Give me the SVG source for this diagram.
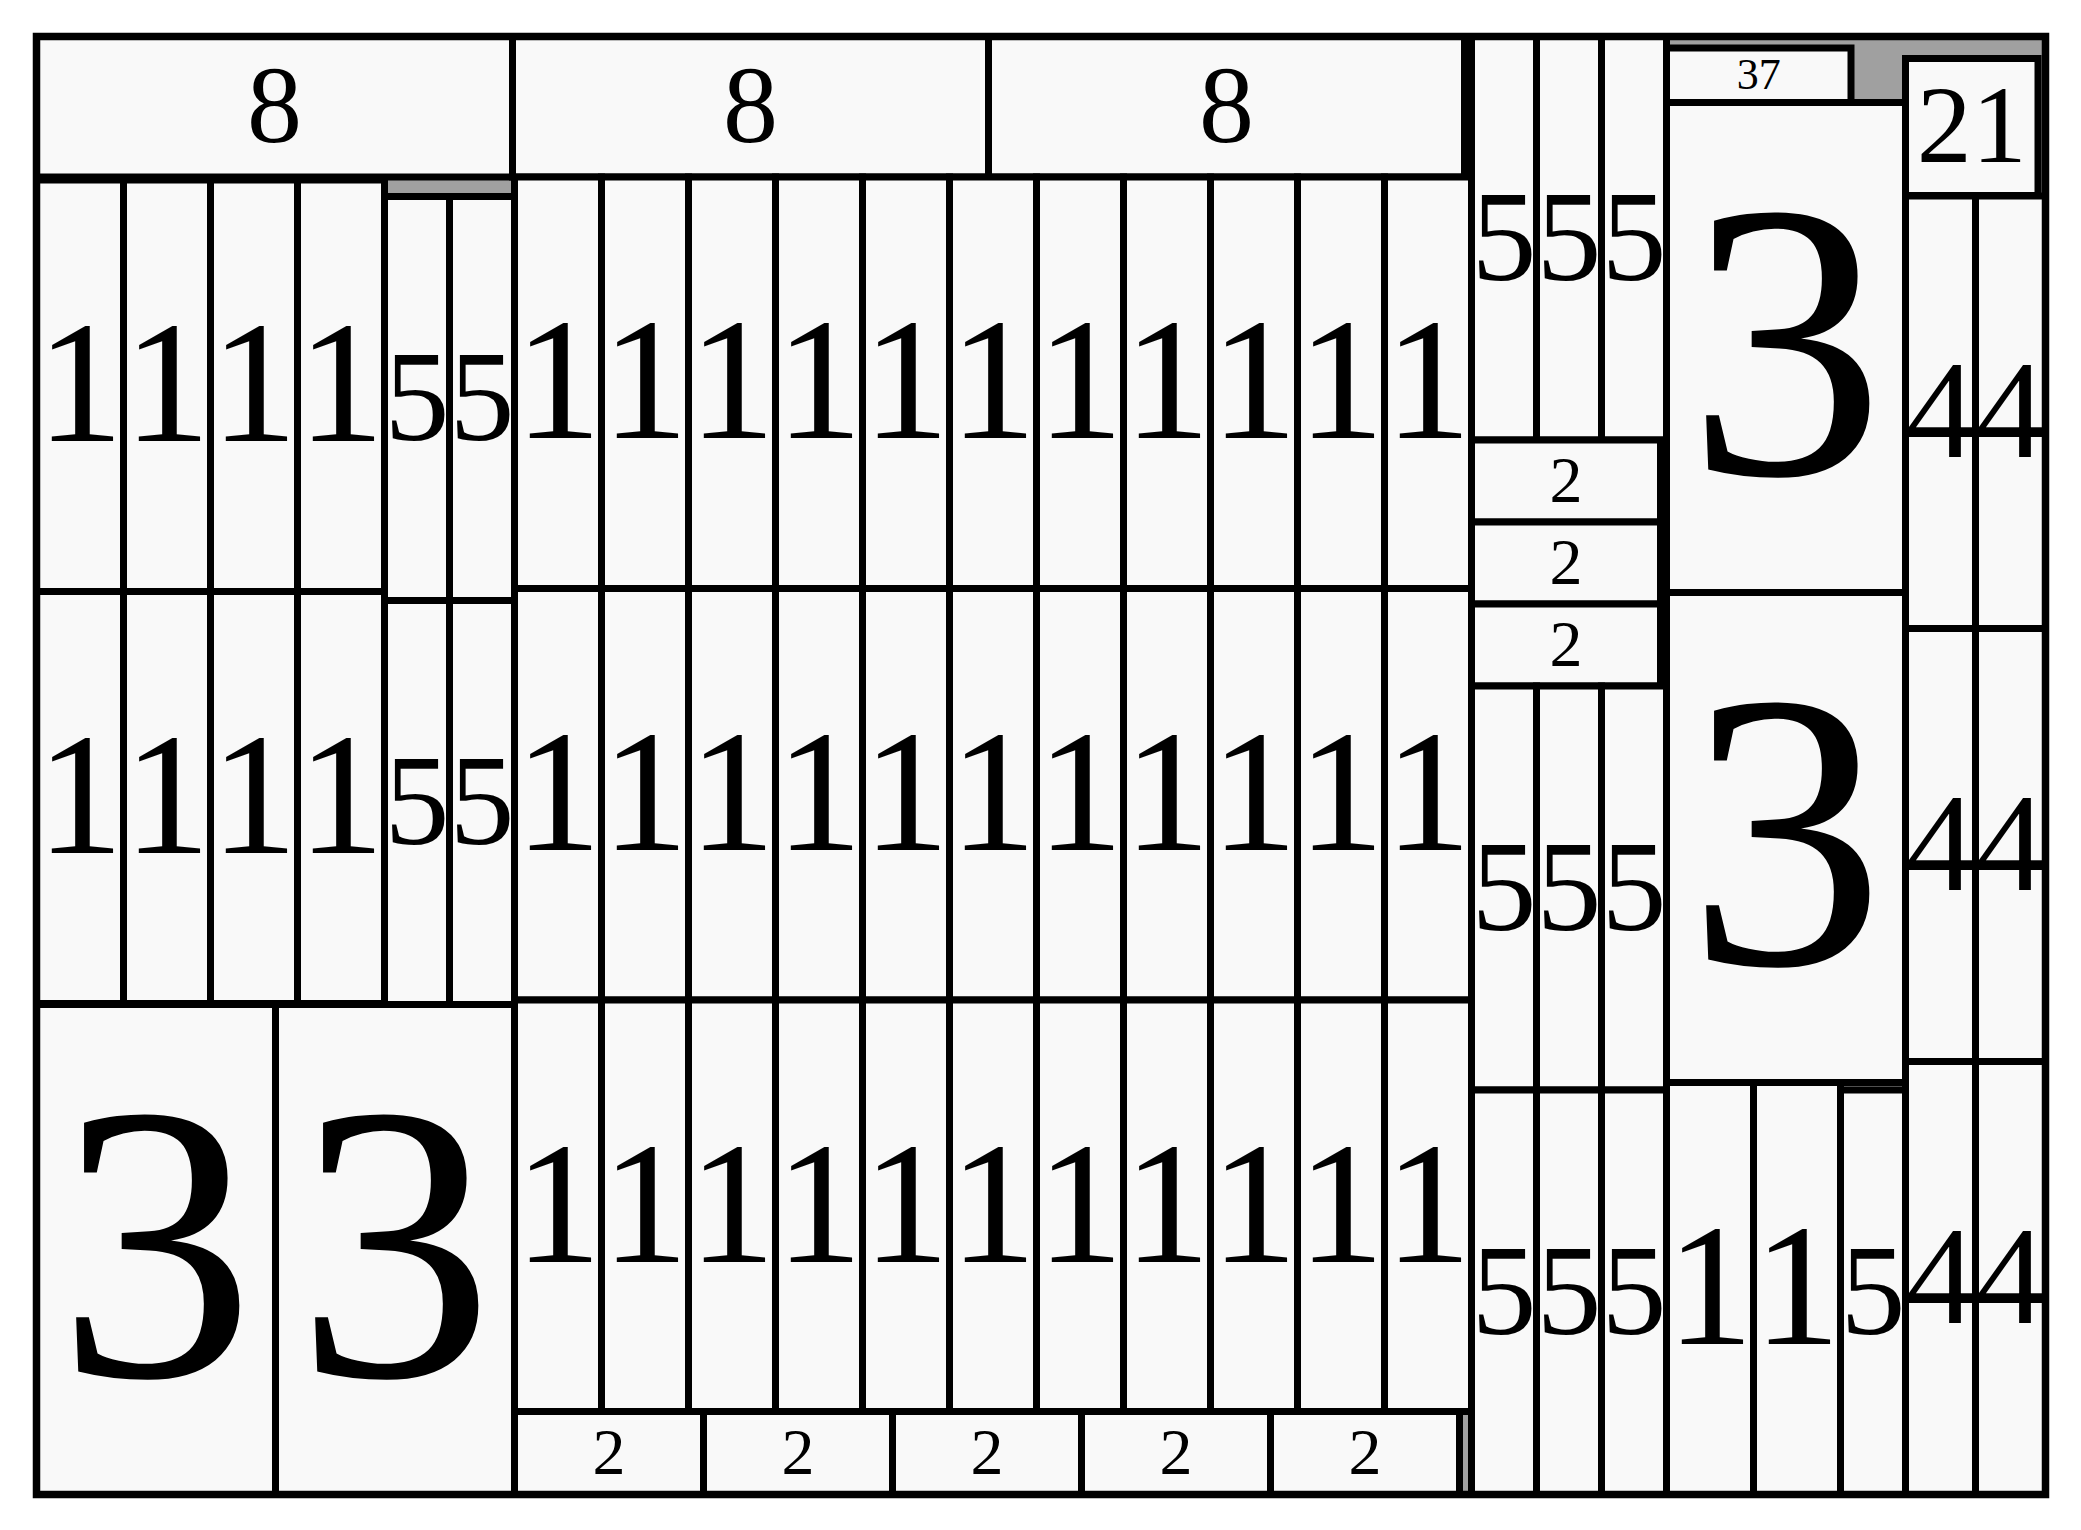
<svg xmlns="http://www.w3.org/2000/svg" width="2081" height="1530" viewBox="0 0 2081 1530">
<style>
.b{fill:#f9f9f9;stroke:#000;stroke-width:7}
.t{font-family:'Liberation Serif','Times New Roman',Times,serif;text-anchor:middle;fill:#000}
.f1{font-size:174px}.f5{font-size:130px}.f3{font-size:395px}.f8{font-size:110px}.f2{font-size:66px}.f4{font-size:140px}.f37{font-size:44px}.f21{font-size:110px}
</style>
<rect width="2081" height="1530" fill="#fff"/>
<rect id="container" x="36.5" y="36.5" width="2009" height="1458" fill="#a0a0a0"/>
<g id="nodes" font-family="Liberation Serif, Times New Roman, serif" text-anchor="middle">
<g id="e8a"><rect class="b" x="36.5" y="36.5" width="476" height="140.5"/><text class="t f8" x="274.5" y="142">8</text></g>
<g id="e8b"><rect class="b" x="512.5" y="36.5" width="476" height="140.5"/><text class="t f8" x="750.5" y="142">8</text></g>
<g id="e8c"><rect class="b" x="988.5" y="36.5" width="476" height="140.5"/><text class="t f8" x="1226.5" y="142">8</text></g>

<g id="l1a"><rect class="b" x="36.5" y="180" width="87" height="411.5"/><text class="t f1" x="80" y="441.4">1</text></g>
<g id="l1b"><rect class="b" x="123.5" y="180" width="87" height="411.5"/><text class="t f1" x="167" y="441.4">1</text></g>
<g id="l1c"><rect class="b" x="210.5" y="180" width="87" height="411.5"/><text class="t f1" x="254" y="441.4">1</text></g>
<g id="l1d"><rect class="b" x="297.5" y="180" width="87" height="411.5"/><text class="t f1" x="341" y="441.4">1</text></g>
<g id="l1e"><rect class="b" x="36.5" y="591.5" width="87" height="412"/><text class="t f1" x="80" y="853">1</text></g>
<g id="l1f"><rect class="b" x="123.5" y="591.5" width="87" height="412"/><text class="t f1" x="167" y="853">1</text></g>
<g id="l1g"><rect class="b" x="210.5" y="591.5" width="87" height="412"/><text class="t f1" x="254" y="853">1</text></g>
<g id="l1h"><rect class="b" x="297.5" y="591.5" width="87" height="412"/><text class="t f1" x="341" y="853">1</text></g>
<g id="l5a"><rect class="b" x="384.5" y="196.5" width="65" height="404"/><text class="t f5" x="417" y="440">5</text></g>
<g id="l5b"><rect class="b" x="449.5" y="196.5" width="65" height="404"/><text class="t f5" x="482" y="440">5</text></g>
<g id="l5c"><rect class="b" x="384.5" y="600.5" width="65" height="404"/><text class="t f5" x="417" y="844">5</text></g>
<g id="l5d"><rect class="b" x="449.5" y="600.5" width="65" height="404"/><text class="t f5" x="482" y="844">5</text></g>
<g id="l3a"><rect class="b" x="36.5" y="1004.5" width="239" height="490"/><text class="t f3" x="156" y="1376">3</text></g>
<g id="l3b"><rect class="b" x="275.5" y="1004.5" width="239" height="490"/><text class="t f3" x="395" y="1376">3</text></g>

<g id="m1r1c1"><rect class="b" x="514.5" y="177" width="87" height="411.5"/><text class="t f1" x="558" y="438.4">1</text></g>
<g id="m1r1c2"><rect class="b" x="601.5" y="177" width="87" height="411.5"/><text class="t f1" x="645" y="438.4">1</text></g>
<g id="m1r1c3"><rect class="b" x="688.5" y="177" width="87" height="411.5"/><text class="t f1" x="732" y="438.4">1</text></g>
<g id="m1r1c4"><rect class="b" x="775.5" y="177" width="87" height="411.5"/><text class="t f1" x="819" y="438.4">1</text></g>
<g id="m1r1c5"><rect class="b" x="862.5" y="177" width="87" height="411.5"/><text class="t f1" x="906" y="438.4">1</text></g>
<g id="m1r1c6"><rect class="b" x="949.5" y="177" width="87" height="411.5"/><text class="t f1" x="993" y="438.4">1</text></g>
<g id="m1r1c7"><rect class="b" x="1036.5" y="177" width="87" height="411.5"/><text class="t f1" x="1080" y="438.4">1</text></g>
<g id="m1r1c8"><rect class="b" x="1123.5" y="177" width="87" height="411.5"/><text class="t f1" x="1167" y="438.4">1</text></g>
<g id="m1r1c9"><rect class="b" x="1210.5" y="177" width="87" height="411.5"/><text class="t f1" x="1254" y="438.4">1</text></g>
<g id="m1r1c10"><rect class="b" x="1297.5" y="177" width="87" height="411.5"/><text class="t f1" x="1341" y="438.4">1</text></g>
<g id="m1r1c11"><rect class="b" x="1384.5" y="177" width="87" height="411.5"/><text class="t f1" x="1428" y="438.4">1</text></g>

<g id="m1r2c1"><rect class="b" x="514.5" y="588.5" width="87" height="411.5"/><text class="t f1" x="558" y="850">1</text></g>
<g id="m1r2c2"><rect class="b" x="601.5" y="588.5" width="87" height="411.5"/><text class="t f1" x="645" y="850">1</text></g>
<g id="m1r2c3"><rect class="b" x="688.5" y="588.5" width="87" height="411.5"/><text class="t f1" x="732" y="850">1</text></g>
<g id="m1r2c4"><rect class="b" x="775.5" y="588.5" width="87" height="411.5"/><text class="t f1" x="819" y="850">1</text></g>
<g id="m1r2c5"><rect class="b" x="862.5" y="588.5" width="87" height="411.5"/><text class="t f1" x="906" y="850">1</text></g>
<g id="m1r2c6"><rect class="b" x="949.5" y="588.5" width="87" height="411.5"/><text class="t f1" x="993" y="850">1</text></g>
<g id="m1r2c7"><rect class="b" x="1036.5" y="588.5" width="87" height="411.5"/><text class="t f1" x="1080" y="850">1</text></g>
<g id="m1r2c8"><rect class="b" x="1123.5" y="588.5" width="87" height="411.5"/><text class="t f1" x="1167" y="850">1</text></g>
<g id="m1r2c9"><rect class="b" x="1210.5" y="588.5" width="87" height="411.5"/><text class="t f1" x="1254" y="850">1</text></g>
<g id="m1r2c10"><rect class="b" x="1297.5" y="588.5" width="87" height="411.5"/><text class="t f1" x="1341" y="850">1</text></g>
<g id="m1r2c11"><rect class="b" x="1384.5" y="588.5" width="87" height="411.5"/><text class="t f1" x="1428" y="850">1</text></g>

<g id="m1r3c1"><rect class="b" x="514.5" y="1000" width="87" height="411.5"/><text class="t f1" x="558" y="1261.5">1</text></g>
<g id="m1r3c2"><rect class="b" x="601.5" y="1000" width="87" height="411.5"/><text class="t f1" x="645" y="1261.5">1</text></g>
<g id="m1r3c3"><rect class="b" x="688.5" y="1000" width="87" height="411.5"/><text class="t f1" x="732" y="1261.5">1</text></g>
<g id="m1r3c4"><rect class="b" x="775.5" y="1000" width="87" height="411.5"/><text class="t f1" x="819" y="1261.5">1</text></g>
<g id="m1r3c5"><rect class="b" x="862.5" y="1000" width="87" height="411.5"/><text class="t f1" x="906" y="1261.5">1</text></g>
<g id="m1r3c6"><rect class="b" x="949.5" y="1000" width="87" height="411.5"/><text class="t f1" x="993" y="1261.5">1</text></g>
<g id="m1r3c7"><rect class="b" x="1036.5" y="1000" width="87" height="411.5"/><text class="t f1" x="1080" y="1261.5">1</text></g>
<g id="m1r3c8"><rect class="b" x="1123.5" y="1000" width="87" height="411.5"/><text class="t f1" x="1167" y="1261.5">1</text></g>
<g id="m1r3c9"><rect class="b" x="1210.5" y="1000" width="87" height="411.5"/><text class="t f1" x="1254" y="1261.5">1</text></g>
<g id="m1r3c10"><rect class="b" x="1297.5" y="1000" width="87" height="411.5"/><text class="t f1" x="1341" y="1261.5">1</text></g>
<g id="m1r3c11"><rect class="b" x="1384.5" y="1000" width="87" height="411.5"/><text class="t f1" x="1428" y="1261.5">1</text></g>

<g id="m2a"><rect class="b" x="514.5" y="1411.5" width="189" height="83"/><text class="t f2" x="609" y="1474">2</text></g>
<g id="m2b"><rect class="b" x="703.5" y="1411.5" width="189" height="83"/><text class="t f2" x="798" y="1474">2</text></g>
<g id="m2c"><rect class="b" x="892.5" y="1411.5" width="189" height="83"/><text class="t f2" x="987" y="1474">2</text></g>
<g id="m2d"><rect class="b" x="1081.5" y="1411.5" width="189" height="83"/><text class="t f2" x="1176" y="1474">2</text></g>
<g id="m2e"><rect class="b" x="1270.5" y="1411.5" width="189" height="83"/><text class="t f2" x="1365" y="1474">2</text></g>

<g id="r5a"><rect class="b" x="1471.5" y="36.5" width="65" height="403.5"/><text class="t f5" x="1504" y="280">5</text></g>
<g id="r5b"><rect class="b" x="1536.5" y="36.5" width="65" height="403.5"/><text class="t f5" x="1569" y="280">5</text></g>
<g id="r5c"><rect class="b" x="1601.5" y="36.5" width="65" height="403.5"/><text class="t f5" x="1634" y="280">5</text></g>
<g id="r2a"><rect class="b" x="1471.5" y="440" width="189" height="82"/><text class="t f2" x="1566" y="502">2</text></g>
<g id="r2b"><rect class="b" x="1471.5" y="522" width="189" height="82"/><text class="t f2" x="1566" y="584">2</text></g>
<g id="r2c"><rect class="b" x="1471.5" y="604" width="189" height="82"/><text class="t f2" x="1566" y="666">2</text></g>
<g id="r5d"><rect class="b" x="1471.5" y="686" width="65" height="404"/><text class="t f5" x="1504" y="929.6">5</text></g>
<g id="r5e"><rect class="b" x="1536.5" y="686" width="65" height="404"/><text class="t f5" x="1569" y="929.6">5</text></g>
<g id="r5f"><rect class="b" x="1601.5" y="686" width="65" height="404"/><text class="t f5" x="1634" y="929.6">5</text></g>
<g id="r5g"><rect class="b" x="1471.5" y="1090" width="65" height="404.5"/><text class="t f5" x="1504" y="1334">5</text></g>
<g id="r5h"><rect class="b" x="1536.5" y="1090" width="65" height="404.5"/><text class="t f5" x="1569" y="1334">5</text></g>
<g id="r5i"><rect class="b" x="1601.5" y="1090" width="65" height="404.5"/><text class="t f5" x="1634" y="1334">5</text></g>

<g id="r37"><rect class="b" x="1666.5" y="48" width="184.5" height="54.5"/><text class="t f37" x="1758.75" y="89.3">37</text></g>
<g id="r3a"><rect class="b" x="1666.5" y="102.5" width="239" height="490"/><text class="t f3" x="1786" y="474">3</text></g>
<g id="r3b"><rect class="b" x="1666.5" y="592.5" width="239" height="490"/><text class="t f3" x="1786" y="964">3</text></g>
<g id="r1a"><rect class="b" x="1666.5" y="1082.5" width="87" height="412"/><text class="t f1" x="1710" y="1344.2">1</text></g>
<g id="r1b"><rect class="b" x="1753.5" y="1082.5" width="87" height="412"/><text class="t f1" x="1797" y="1344.2">1</text></g>
<g id="r5j"><rect class="b" x="1840.5" y="1090" width="65" height="404.5"/><text class="t f5" x="1873" y="1334">5</text></g>

<g id="r21"><rect class="b" x="1905.5" y="58.5" width="132.5" height="137"/><text class="t f21" x="1971.75" y="162">21</text></g>
<g id="r4a"><rect class="b" x="1905.5" y="196" width="70" height="432.5"/><text class="t f4" x="1940.5" y="457">4</text></g>
<g id="r4b"><rect class="b" x="1975.5" y="196" width="70" height="432.5"/><text class="t f4" x="2010.5" y="457">4</text></g>
<g id="r4c"><rect class="b" x="1905.5" y="628.5" width="70" height="433"/><text class="t f4" x="1940.5" y="889.8">4</text></g>
<g id="r4d"><rect class="b" x="1975.5" y="628.5" width="70" height="433"/><text class="t f4" x="2010.5" y="889.8">4</text></g>
<g id="r4e"><rect class="b" x="1905.5" y="1061.5" width="70" height="433"/><text class="t f4" x="1940.5" y="1322.8">4</text></g>
<g id="r4f"><rect class="b" x="1975.5" y="1061.5" width="70" height="433"/><text class="t f4" x="2010.5" y="1322.8">4</text></g>
</g>
<g id="connectors"/>
<rect id="frame" x="36.5" y="36.5" width="2009" height="1458" fill="none" stroke="#000" stroke-width="7.5"/>
</svg>
